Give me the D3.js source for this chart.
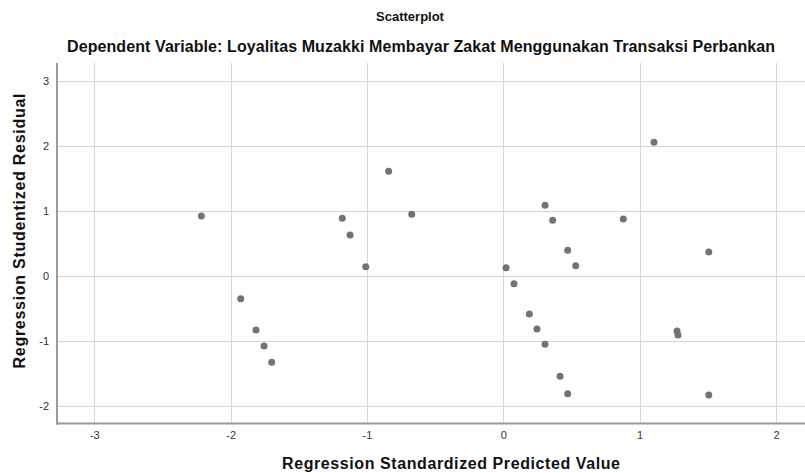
<!DOCTYPE html>
<html>
<head>
<meta charset="utf-8">
<script src="https://cdn.jsdelivr.net/npm/d3@7"></script>
<style>
html,body{margin:0;padding:0;background:#fff;}
svg{display:block;}
text{font-family:"Liberation Sans", Arial, sans-serif;}
</style>
</head>
<body>
<svg id="chart" width="805" height="473"></svg>
<script>
const title = "Scatterplot";
const subtitle = "Dependent Variable: Loyalitas Muzakki Membayar Zakat Menggunakan Transaksi Perbankan";
const xLabel = "Regression Standardized Predicted Value";
const yLabel = "Regression Studentized Residual";
const xTicks = [-3, -2, -1, 0, 1, 2];
const yTicks = [-2, -1, 0, 1, 2, 3];

const predicted = [-2.215, -1.181, -1.124, -1.009, -0.841, -0.672, -1.926, -1.814, -1.755, -1.699,
  1.105, 0.306, 0.362, 0.880, 0.472, 0.531, 0.020, 0.078, 0.191, 0.247, 0.306, 0.416, 0.472,
  1.507, 1.274, 1.281, 1.507];
const residual = [0.918, 0.883, 0.626, 0.138, 1.606, 0.945, -0.354, -0.835, -1.082, -1.333,
  2.052, 1.083, 0.852, 0.872, 0.391, 0.154, 0.123, -0.123, -0.589, -0.820, -1.055, -1.548, -1.815,
  0.365, -0.851, -0.912, -1.835];

const svg = d3.select("#chart");
const plotLeft = 57, plotRight = 805, plotTop = 63, plotBottom = 423.5;

const x = d3.scaleLinear().domain([-3, 2]).range([94.3, 776]);
const y = d3.scaleLinear().domain([-2, 3]).range([405.7, 80.7]);

// gridlines
const grid = svg.append("g");
grid.selectAll("line.v").data(xTicks).enter().append("line")
  .attr("x1", d => Math.round(x(d)) + 0.5).attr("x2", d => Math.round(x(d)) + 0.5)
  .attr("y1", plotTop).attr("y2", plotBottom)
  .attr("stroke", "#d6d6d6").attr("stroke-width", 1);
grid.selectAll("line.h").data(yTicks).enter().append("line")
  .attr("y1", d => Math.round(y(d)) + 0.5).attr("y2", d => Math.round(y(d)) + 0.5)
  .attr("x1", plotLeft).attr("x2", plotRight)
  .attr("stroke", "#d6d6d6").attr("stroke-width", 1);

// axes
const fmt = d => String(d);
const xAxis = d3.axisBottom(x).tickValues(xTicks).tickSize(0).tickPadding(8).tickFormat(fmt);
const yAxis = d3.axisLeft(y).tickValues(yTicks).tickSize(0).tickPadding(6).tickFormat(fmt);

const gx = svg.append("g").attr("transform", `translate(0,${plotBottom})`).call(xAxis);
gx.select(".domain").remove();
gx.selectAll("text").attr("font-size", 11).attr("fill", "#333").attr("font-family", "Liberation Sans, Arial, sans-serif");

const gy = svg.append("g").attr("transform", `translate(${plotLeft - 2},0)`).call(yAxis);
gy.select(".domain").remove();
gy.selectAll("text").attr("font-size", 11).attr("fill", "#333").attr("font-family", "Liberation Sans, Arial, sans-serif");

// axis lines
svg.append("line").attr("x1", plotLeft).attr("x2", plotLeft).attr("y1", plotTop).attr("y2", plotBottom + 1)
  .attr("stroke", "#9a9a9a").attr("stroke-width", 2);
svg.append("line").attr("x1", plotLeft - 1).attr("x2", plotRight).attr("y1", plotBottom).attr("y2", plotBottom)
  .attr("stroke", "#9a9a9a").attr("stroke-width", 2);

// points
svg.append("g").selectAll("circle").data(predicted.map((p, i) => [p, residual[i]])).enter().append("circle")
  .attr("cx", d => x(d[0])).attr("cy", d => y(d[1])).attr("r", 3.5)
  .attr("fill", "#737373");

// titles
svg.append("text").attr("x", 410).attr("y", 21).attr("text-anchor", "middle")
  .attr("font-size", 13).attr("font-weight", "bold").attr("fill", "#111").text(title);
svg.append("text").attr("x", 421).attr("y", 52).attr("text-anchor", "middle")
  .attr("font-size", 16).attr("font-weight", "bold").attr("fill", "#111")
  .attr("textLength", 708).attr("lengthAdjust", "spacing").text(subtitle);

svg.append("text").attr("x", 451).attr("y", 469).attr("text-anchor", "middle")
  .attr("font-size", 16).attr("font-weight", "bold").attr("fill", "#111")
  .attr("textLength", 338).attr("lengthAdjust", "spacing").text(xLabel);
svg.append("text").attr("transform", "translate(25,231) rotate(-90)").attr("text-anchor", "middle")
  .attr("font-size", 16).attr("font-weight", "bold").attr("fill", "#111")
  .attr("textLength", 275).attr("lengthAdjust", "spacing").text(yLabel);
</script>
</body>
</html>
